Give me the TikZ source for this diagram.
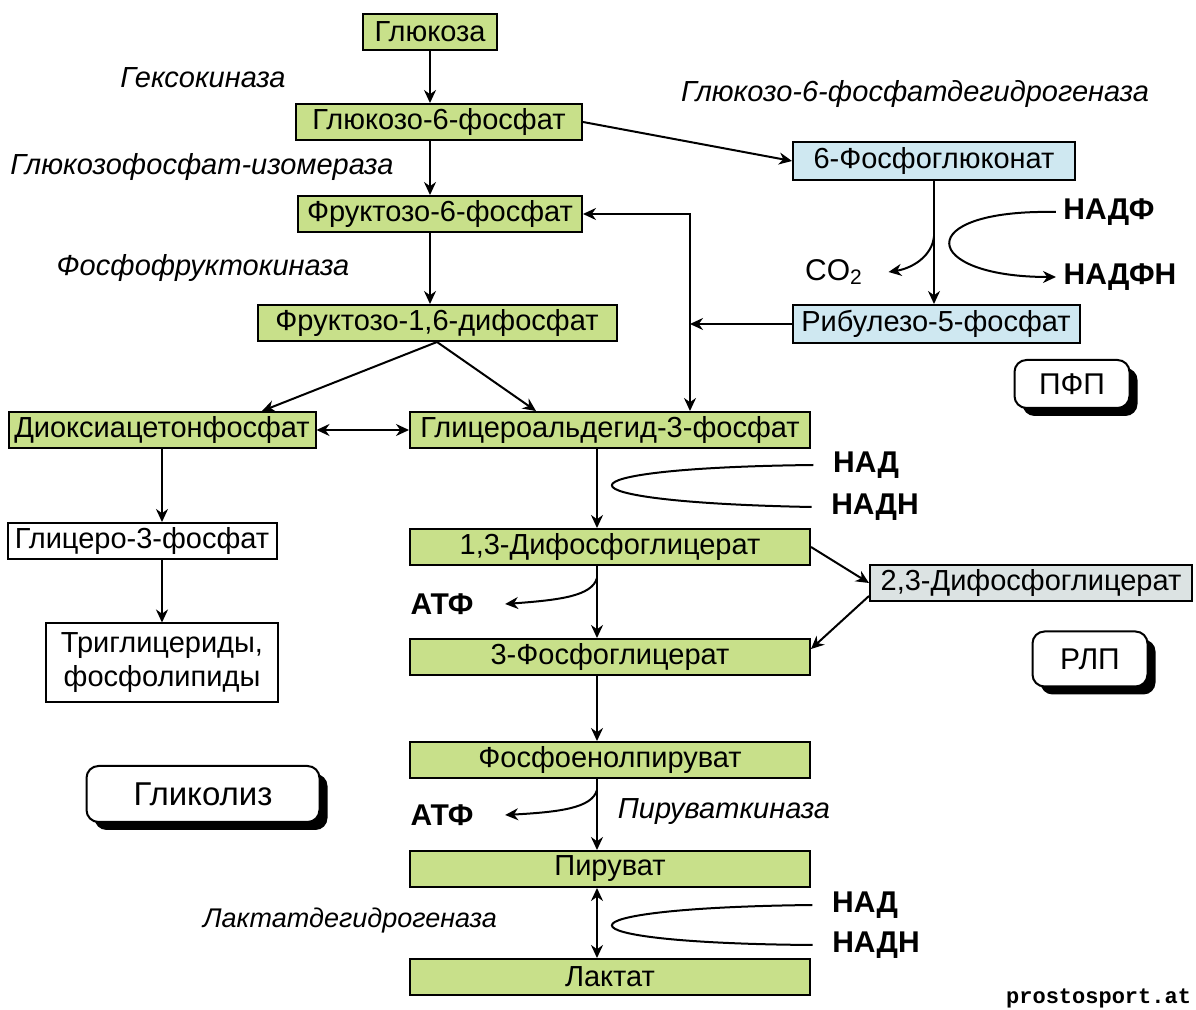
\documentclass[tikz,border=0pt]{standalone}
\usepackage{fontspec}
\setmainfont{Liberation Sans}
\setmonofont{Liberation Mono}
\definecolor{glygreen}{rgb}{0.784,0.878,0.541}
\definecolor{pppblue}{rgb}{0.812,0.910,0.945}
\definecolor{rlpgrey}{rgb}{0.863,0.890,0.890}
\usetikzlibrary{arrows.meta, calc, shadows}
\tikzset{
    metab/.style={
           rectangle,
           draw=black, line width=1pt,
           fill=glygreen,
           minimum height=18pt,
           inner sep=1pt,
           text centered,
           font=\fontsize{14.5}{17}\selectfont,
           },
    pathbox/.style={
           rectangle, rounded corners=6pt,
           draw=black, line width=1pt, fill=white,
           drop shadow={shadow xshift=4pt, shadow yshift=-4pt, fill=black, opacity=1},
           font=\fontsize{15}{18}\selectfont,
           },
    enzlabel/.style={font=\fontsize{14.5}{17}\selectfont\itshape},
    coflabel/.style={font=\fontsize{15}{18}\selectfont\bfseries},
}
\begin{document}
\begin{tikzpicture}[x=0.5pt, y=-0.5pt, >={Stealth[length=6.5pt,width=6pt]}, ->, line width=1pt]
  \useasboundingbox (0,0) rectangle (1196,1010);
  % metabolites
  \node[metab, minimum width=67pt]                      (glc)   at (430,32)  {Глюкоза};
  \node[metab, minimum width=143pt]                     (g6p)   at (439,122) {Глюкозо-6-фосфат};
  \node[metab, fill=pppblue, minimum width=141pt, minimum height=19pt]   (pg6)  at (934,161) {6-Фосфоглюконат};
  \node[metab, minimum width=142pt]                     (f6p)   at (440,214) {Фруктозо-6-фосфат};
  \node[metab, minimum width=179.5pt]                   (f16)   at (437,323) {Фруктозо-1,6-дифосфат};
  \node[metab, fill=pppblue, minimum width=143.5pt, minimum height=19pt] (ru5p) at (936,324) {Рибулезо-5-фосфат};
  \node[metab, minimum width=153.5pt]                   (dhap)  at (162,430) {Диоксиацетонфосфат};
  \node[metab, minimum width=200pt]                     (ga3p)  at (610,430) {Глицероальдегид-3-фосфат};
  \node[metab, fill=white, minimum width=134.5pt]       (g3p)   at (142,541) {Глицеро-3-фосфат};
  \node[metab, fill=white, minimum width=116pt, minimum height=39.5pt, align=center] (tg) at (162,663) {Триглицериды,\\фосфолипиды};
  \node[metab, minimum width=200pt]                     (dpg13) at (610,547) {1,3-Дифосфоглицерат};
  \node[metab, fill=rlpgrey, minimum width=161pt]       (dpg23) at (1031,583) {2,3-Дифосфоглицерат};
  \node[metab, minimum width=200pt]                     (pg3)   at (610,657) {3-Фосфоглицерат};
  \node[metab, minimum width=200pt]                     (pep)   at (610,760) {Фосфоенолпируват};
  \node[metab, minimum width=200pt]                     (pyr)   at (610,869) {Пируват};
  \node[metab, minimum width=200pt]                     (lac)   at (610,977) {Лактат};
  % pathway tags
  \node[pathbox, minimum width=57.5pt, minimum height=24pt]   (pfp)  at (1072,384) {ПФП};
  \node[pathbox, minimum width=57.5pt, minimum height=27.5pt] (rlp)  at (1090,659) {РЛП};
  \node[pathbox, minimum width=116.5pt, minimum height=28pt, font=\fontsize{16.5}{19}\selectfont] (glyc) at (203,794) {Гликолиз};
  % enzymes
  \node[enzlabel] (hk)   at (203,78)  {Гексокиназа};
  \node[enzlabel] (gpi)  at (202,167) {Глюкозофосфат-изомераза};
  \node[enzlabel] (pfk)  at (203,268) {Фосфофруктокиназа};
  \node[enzlabel] (g6pd) at (915,94)  {Глюкозо-6-фосфатдегидрогеназа};
  \node[enzlabel] (pk)   at (724,812) {Пируваткиназа};
  \node[enzlabel, font=\fontsize{13.5}{16}\selectfont\itshape] (ldh) at (350,921) {Лактатдегидрогеназа};
  % cofactors
  \node[coflabel] (nadp)  at (1109,212) {НАДФ};
  \node[coflabel] (nadph) at (1120,277) {НАДФН};
  \node[font=\fontsize{15}{18}\selectfont] (co2) at (834,272) {CO\textsubscript{2}};
  \node[coflabel] (nad1)  at (866,465) {НАД};
  \node[coflabel] (nadh1) at (875,507) {НАДН};
  \node[coflabel] (atp1)  at (442,604) {АТФ};
  \node[coflabel] (atp2)  at (442,815) {АТФ};
  \node[coflabel] (nad2)  at (865,905) {НАД};
  \node[coflabel] (nadh2) at (876,945) {НАДН};
  \node[font=\ttfamily\bfseries\fontsize{11}{13}\selectfont, anchor=east, inner sep=1pt] (wm) at (1194,998) {prostosport.at};
  % helper points
  \coordinate (bend)     at (690,214);
  \coordinate (axis)     at (597,0);
  \coordinate (co2fork)  at ($(pg6.south)!0.45!(pg6.south |- ru5p.north)$);
  \coordinate (atpfork1) at (597,578);
  \coordinate (atpfork2) at (597,790);
  % reactions
  \draw (glc.south) -- (glc.south |- g6p.north);
  \draw (glc.south |- g6p.south) -- (glc.south |- f6p.north);
  \draw (glc.south |- f6p.south) -- (glc.south |- f16.north);
  \draw (g6p.east) -- (pg6.west);
  \draw (pg6.south) -- (pg6.south |- ru5p.north);
  \draw (co2fork) .. controls ($(co2fork)+(-2,20)$) and ($(co2fork)+(-22,32)$) .. ([xshift=9pt]co2.east);
  \draw (nadp.west) .. controls (910,209) and (920,277) .. (nadph.west);
  \draw (f16.south) -- ([xshift=50pt]dhap.north);
  \draw (f16.south) -- ([xshift=-37pt]ga3p.north);
  \draw[<->] (dhap.east) -- (ga3p.west);
  \draw[<->] (f6p.east) -- (bend) -- (bend |- ga3p.north);
  \draw (ru5p.west) -- (bend |- ru5p.west);
  \draw (dhap.south) -- (dhap.south |- g3p.north);
  \draw (dhap.south |- g3p.south) -- (tg.north);
  \draw (axis |- ga3p.south) -- (axis |- dpg13.north);
  \draw[-] ([xshift=-6pt]nad1.west) .. controls (545,468) and (545,502) .. ([xshift=-6pt]nadh1.west);
  \draw (axis |- dpg13.south) -- (axis |- pg3.north);
  \draw (atpfork1) .. controls (592,596) and (560,600) .. ([xshift=12pt]atp1.east);
  \draw (dpg13.east) -- (dpg23.west);
  \draw ([yshift=3pt]dpg23.south west) -- ([yshift=4pt]pg3.east);
  \draw (axis |- pg3.south) -- (axis |- pep.north);
  \draw (axis |- pep.south) -- (axis |- pyr.north);
  \draw (atpfork2) .. controls (592,808) and (560,812) .. ([xshift=12pt]atp2.east);
  \draw[<->] (axis |- pyr.south) -- (axis |- lac.north);
  \draw[-] ([xshift=-6pt]nad2.west) .. controls (545,908) and (545,943) .. ([xshift=-6pt]nadh2.west);
\end{tikzpicture}
\end{document}
